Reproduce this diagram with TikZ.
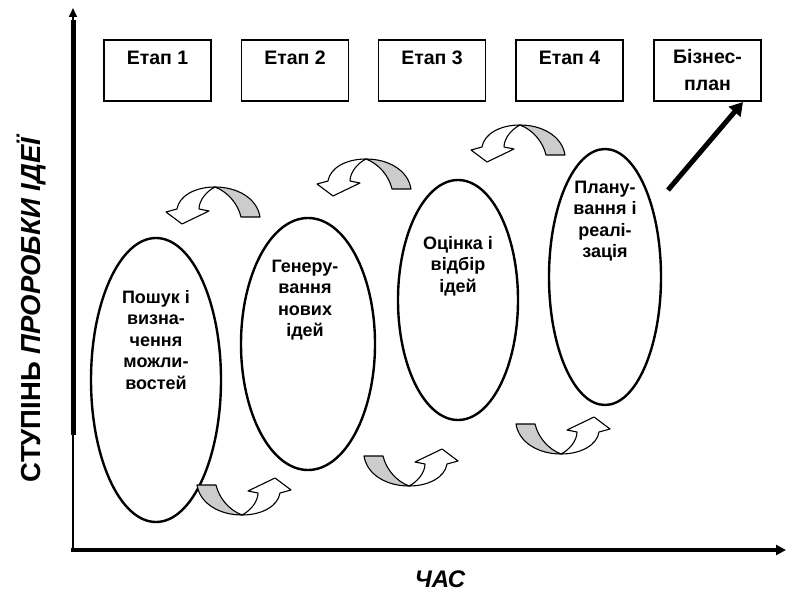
\documentclass[tikz,border=0pt]{standalone}
\usepackage{fontspec}
\setmainfont{Liberation Sans}
\usetikzlibrary{arrows.meta,shapes.geometric}
\tikzset{
  stagebox/.style={draw, line width=1.4pt, rectangle, minimum width=107pt, minimum height=61pt, inner sep=0pt,
    font=\fontsize{19.5}{27}\selectfont\bfseries},
  stagetext/.style={text height=14pt, text depth=25pt},
  oval/.style={draw, line width=2.4pt, ellipse, inner sep=0pt},
  ovaltext/.style={align=center, inner sep=0pt, font=\fontsize{18}{21.5}\selectfont\bfseries},
  axisthin/.style={line width=2pt, -{Triangle[length=9pt,width=8pt]}},
  axisthick/.style={line width=5pt},
  bigarrow/.style={line width=5pt, -{Triangle[length=13pt,width=15pt]}},
  arcline/.style={line width=1.1pt, line join=round},
  arcarrow/.pic={
    \filldraw[arcline, fill=gray!40] (1,-18) .. controls (23,-18) and (43,-7) .. (46,12)
      -- (27,12) .. controls (24,-1) and (14,-13) .. (1,-18) -- cycle;
    \filldraw[arcline, fill=white] (1,-18) .. controls (-19,-18) and (-35,-9) .. (-37,4)
      -- (-48,7) -- (-32,19) -- (-5,6) -- (-15,4)
      .. controls (-15,-5) and (-7,-14) .. (1,-18) -- cycle;
  }
}
\begin{document}
\begin{tikzpicture}[x=1pt,y=-1pt]
\useasboundingbox (0,0) rectangle (786,593);

% axes
\coordinate (o) at (73,550);
\coordinate (ytop) at (73,8);
\coordinate (ythick) at (73,435);
\coordinate (ythicktop) at (73,20);
\coordinate (xend) at (786,550);
\draw[axisthin] (o) -- (ytop);
\draw[axisthick] (ythick) -- (ythicktop);
\draw[line width=3.5pt, -{Triangle[length=10pt,width=10pt]}] ([xshift=-1.75pt]o) -- (xend);

% axis labels
\node[rotate=90, font=\fontsize{27.5}{30}\selectfont] (ylab) at (31,310) {\bfseries СТУПІНЬ \itshape ПРОРОБКИ ІДЕЇ};
\node[font=\fontsize{24}{28}\selectfont\bfseries\itshape] (xlab) at (440,579) {ЧАС};

% stage boxes
\node[stagebox, stagetext] (b1) at (157.5,70.5) {Етап 1};
\node[stagebox, stagetext] (b2) at (295,70.5) {Етап 2};
\node[stagebox, stagetext] (b3) at (432,70.5) {Етап 3};
\node[stagebox, stagetext] (b4) at (569.5,70.5) {Етап 4};
\node[stagebox, align=center] (b5) at (707.5,70.5) {Бізнес-\\план};

% ovals
\node[oval, minimum width=130pt, minimum height=284pt] (e1) at (156,380) {};
\node[oval, minimum width=134pt, minimum height=252pt] (e2) at (308,344) {};
\node[oval, minimum width=120pt, minimum height=240pt] (e3) at (458,300) {};
\node[oval, minimum width=112pt, minimum height=256pt] (e4) at (605,277) {};

\node[ovaltext] (t1) at (156,340) {Пошук і\\визна-\\чення\\можли-\\востей};
\node[ovaltext] (t2) at (305,300) {Генеру-\\вання\\нових\\ідей};
\node[ovaltext] (t3) at (458,266) {Оцінка і\\відбір\\ідей};
\node[ovaltext] (t4) at (605,221) {Плану-\\вання і\\реалі-\\зація};

% curved arrows
\pic at (214,205) {arcarrow};
\pic at (365,177) {arcarrow};
\pic at (519,143) {arcarrow};
\pic[rotate=180] at (243,497) {arcarrow};
\pic[rotate=180] at (410,468) {arcarrow};
\pic[rotate=180] at (562,436) {arcarrow};

% arrow to business plan
\coordinate (bs) at (668,190);
\coordinate (be) at (743,102);
\draw[bigarrow] (bs) -- (be);
\end{tikzpicture}
\end{document}
